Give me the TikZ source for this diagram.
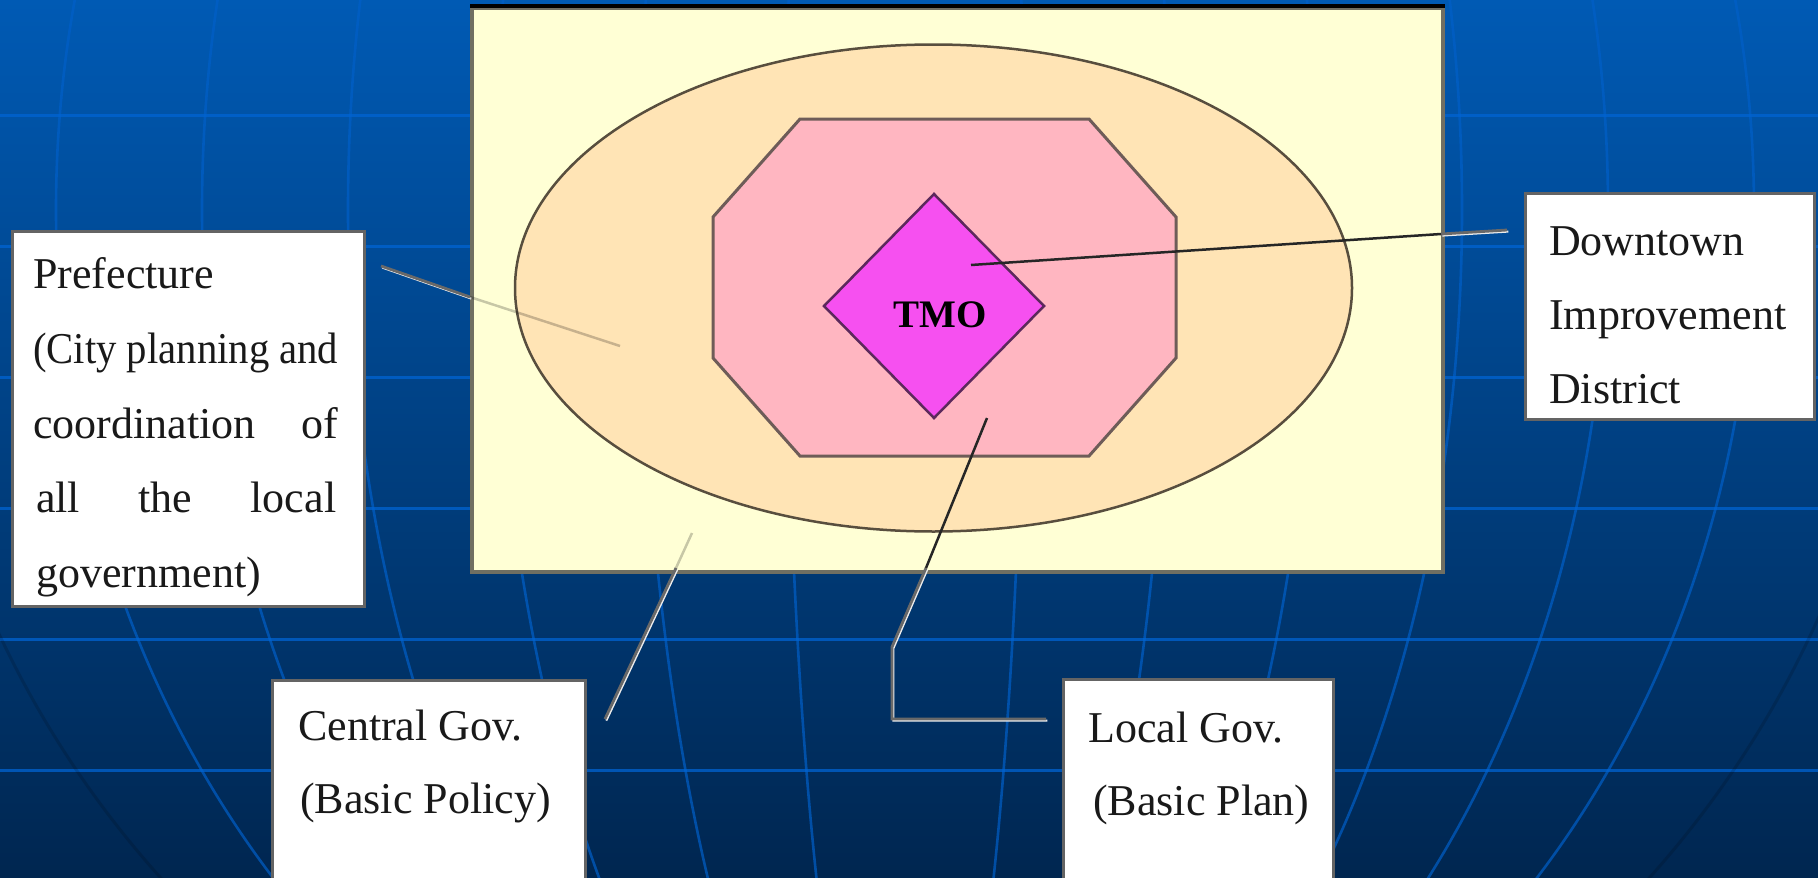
\documentclass[tikz,border=0pt]{standalone}
\usepackage{fontspec}
\setmainfont{Liberation Serif}
\usepackage{graphicx}
\definecolor{bgtop}{RGB}{0,90,180}
\definecolor{bgbot}{RGB}{0,38,80}
\definecolor{gridc}{RGB}{0,95,200}
\definecolor{gridh}{RGB}{0,100,210}
\definecolor{cream}{RGB}{255,255,213}
\definecolor{moccasin}{RGB}{255,228,181}
\definecolor{lpink}{RGB}{255,182,193}
\definecolor{magen}{RGB}{246,80,240}
\definecolor{edgebrown}{RGB}{88,78,62}
\definecolor{octedge}{RGB}{110,92,88}
\definecolor{diaedge}{RGB}{92,40,92}
\definecolor{boxedge}{RGB}{100,100,100}
\definecolor{frameedge}{RGB}{112,111,98}
\definecolor{calgray}{RGB}{105,105,105}
\begin{document}
\begin{tikzpicture}[x=1pt,y=-1pt,
  labelbox/.style={draw=boxedge, fill=white, line width=3pt, inner sep=0pt, anchor=north west},
  lbl/.style={anchor=base west, inner sep=0pt, text=black!90, font=\fontsize{44}{50}\selectfont},
  calshadow/.style={draw=white!85!gray, line width=2pt, line join=miter, transform canvas={shift={(1.3pt,-1.6pt)}}},
  calline/.style={draw=calgray, line width=2.8pt, line join=miter},
  innerpale/.style={draw=black, opacity=.22, line width=2.5pt},
  innerdark/.style={draw=black!85, line width=2.5pt}]
\useasboundingbox (0,0) rectangle (1818,878);
% background
\shade[top color=bgtop, bottom color=bgbot] (0,0) rectangle (1818,878);
\begin{scope}
  \clip (0,0) rectangle (1818,878);
  \foreach \r in {119,265,411,557,703,849}
    \draw[gridc, line width=2.6pt, opacity=.7] (905,210) ellipse [x radius=\r, y radius=1000];
  \foreach \y in {115,246,377,508,639,770}
    \draw[gridh, line width=3pt, opacity=.75] (0,\y) -- (1818,\y);
  \draw[black, opacity=.14, line width=3pt] (905,210) circle [radius=1000];
\end{scope}
% main frame
\node[fill=cream, draw=frameedge, line width=4pt, inner sep=0pt, anchor=north west,
      minimum width=971pt, minimum height=564pt] (frame) at (470,6) {};
\draw[black, line width=4pt] (frame.north west) -- (frame.north east);
\draw[fill=moccasin, draw=edgebrown, line width=2.5pt] (933.5,288) ellipse [x radius=418.5, y radius=243.5];
\draw[fill=lpink, draw=octedge, line width=3pt] (800,119) -- (1089,119) -- (1176,217) -- (1176,358)
  -- (1089,456) -- (800,456) -- (713,358) -- (713,217) -- cycle;
\draw[fill=magen, draw=diaedge, line width=2.5pt] (934,194) -- (1044,306) -- (934,418) -- (824,306) -- cycle;
\node[anchor=base, inner sep=0pt, font=\fontsize{39}{40}\selectfont\bfseries] (tmo) at (940,327) {TMO};
% connector points
\coordinate (pA) at (381,266);
\coordinate (pB) at (470,297);
\coordinate (pC) at (620,346);
\coordinate (cA) at (605,719);
\coordinate (cB) at (676,568);
\coordinate (cC) at (692,533);
\coordinate (lA) at (1046,719);
\coordinate (lB) at (892,719);
\coordinate (lC) at (892,647);
\coordinate (lD) at (926,568);
\coordinate (lE) at (987,418);
\coordinate (dA) at (1507,230);
\coordinate (dB) at (1441,234);
\coordinate (dC) at (971,265);
% connectors
\draw[calshadow] (pA) -- (pB);
\draw[calline] (pA) -- (pB);
\draw[innerpale] (pB) -- (pC);
\draw[calshadow] (cA) -- (cB);
\draw[calline] (cA) -- (cB);
\draw[innerpale] (cB) -- (cC);
\draw[calshadow] (lA) -- (lB) -- (lC) -- (lD);
\draw[calline] (lA) -- (lB) -- (lC) -- (lD);
\draw[innerdark] (lD) -- (lE);
\draw[calshadow] (dA) -- (dB);
\draw[calline] (dA) -- (dB);
\draw[innerdark] (dB) -- (dC);
% label boxes
\node[labelbox, minimum width=352pt, minimum height=375pt] (pref) at (11,230) {};
\node[labelbox, minimum width=289pt, minimum height=226pt] (down) at (1524,192) {};
\node[labelbox, minimum width=313pt, minimum height=240pt] (cent) at (271,679) {};
\node[labelbox, minimum width=270pt, minimum height=240pt] (locl) at (1062,678) {};
% label texts
\node[lbl] (pref1) at (33,288) {Prefecture};
\node[lbl] (pref2) at (33,363) {\resizebox{305pt}{\height}{(City planning and}};
\node[lbl] (pref3) at (33,438) {\makebox[305pt][s]{coordination of}};
\node[lbl] (pref4) at (36,512) {\makebox[300pt][s]{all the local}};
\node[lbl] (pref5) at (36,587) {government)};
\node[lbl] (down1) at (1549,255) {Downtown};
\node[lbl] (down2) at (1549,329) {Improvement};
\node[lbl] (down3) at (1549,403) {District};
\node[lbl] (cent1) at (298,740) {Central Gov.};
\node[lbl] (cent2) at (300,813) {(Basic Policy)};
\node[lbl] (locl1) at (1088,742) {Local Gov.};
\node[lbl] (locl2) at (1093,815) {(Basic Plan)};
\end{tikzpicture}
\end{document}
